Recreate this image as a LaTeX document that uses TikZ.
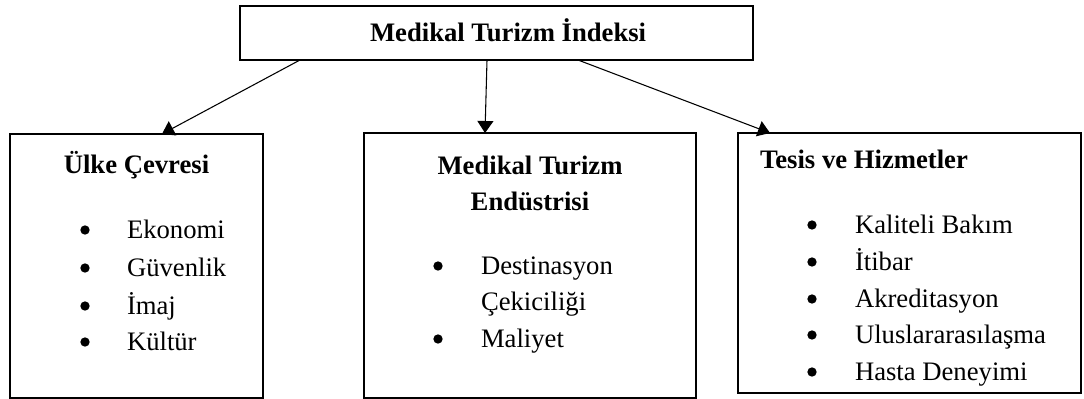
\documentclass[tikz,border=0pt]{standalone}
\usepackage{fontspec}
\setmainfont{Liberation Serif}
\usetikzlibrary{arrows.meta,calc}
\begin{document}
\begin{tikzpicture}[x=0.75pt,y=-0.75pt,
  every node/.style={inner sep=0pt,outer sep=0pt},
  box/.style={draw=black,line width=1.6pt,fill=none},
  topbox/.style={draw=black,line width=2.2pt},
  txt/.style={anchor=base west,font=\fontsize{20pt}{28pt}\selectfont},
  ttl/.style={anchor=base,font=\fontsize{20pt}{28pt}\selectfont\bfseries},
  ttlw/.style={anchor=base west,font=\fontsize{20pt}{28pt}\selectfont\bfseries},
  bul/.style={circle,fill=black,minimum size=7pt},
  conn/.style={line width=0.8pt,-{Triangle[length=9pt,width=12pt]}}]
\useasboundingbox (0,0) rectangle (1084,399);
% boxes
\node[topbox,minimum width=513*0.75pt,minimum height=54*0.75pt] (top) at (496.5,33) {};
\node[box,minimum width=253*0.75pt,minimum height=264*0.75pt] (lbox) at (136.5,266) {};
\node[box,minimum width=332*0.75pt,minimum height=265*0.75pt] (mbox) at (530,265.5) {};
\node[box,line width=2pt,minimum width=343*0.75pt,minimum height=260*0.75pt] (rbox) at (909.5,263) {};
% titles
\node[ttlw] (ttop) at (370,42) {Medikal Turizm İndeksi};
\node[ttl] (tl) at (136.5,173) {Ülke Çevresi};
\node[ttl] (tm1) at (530,175) {Medikal Turizm};
\node[ttl] (tm2) at (530,210) {Endüstrisi};
\node[ttlw] (tr) at (760,168) {Tesis ve Hizmetler};
% left list
\node[bul] (lb1) at (85,230) {}; \node[txt] (l1) at (127,238) {Ekonomi};
\node[bul] (lb2) at (85,268) {}; \node[txt] (l2) at (127,276) {Güvenlik};
\node[bul] (lb3) at (85,306) {}; \node[txt] (l3) at (127,314) {İmaj};
\node[bul] (lb4) at (85,342) {}; \node[txt] (l4) at (127,350) {Kültür};
% middle list
\node[bul] (mb1) at (438,266) {}; \node[txt] (m1) at (481,274) {Destinasyon};
\node[txt] (m1b) at (481,310) {Çekiciliği};
\node[bul] (mb2) at (438,339) {}; \node[txt] (m2) at (481,347) {Maliyet};
% right list
\node[bul] (rb1) at (812,225) {}; \node[txt] (r1) at (855,233) {Kaliteli Bakım};
\node[bul] (rb2) at (812,262) {}; \node[txt] (r2) at (855,270) {İtibar};
\node[bul] (rb3) at (812,299) {}; \node[txt] (r3) at (855,307) {Akreditasyon};
\node[bul] (rb4) at (812,335) {}; \node[txt] (r4) at (855,343) {Uluslararasılaşma};
\node[bul] (rb5) at (812,372) {}; \node[txt] (r5) at (855,380) {Hasta Deneyimi};
% connectors
\draw[conn] ($(top.south west)+(60,0)$) -- ($(lbox.north west)+(152,0)$);
\draw[conn] ($(top.south west)+(247,0)$) -- ($(mbox.north west)+(121,0)$);
\draw[conn] ($(top.south west)+(338,0)$) -- ($(rbox.north west)+(32,0)$);
\end{tikzpicture}
\end{document}
